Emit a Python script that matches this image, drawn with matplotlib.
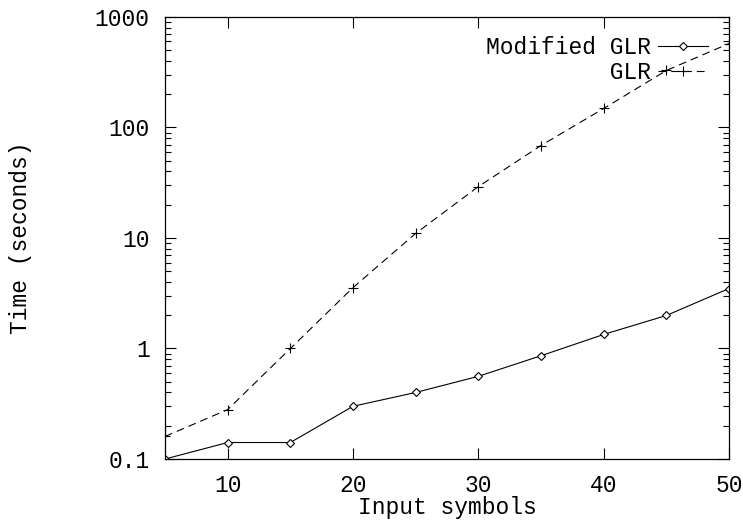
import matplotlib
matplotlib.use("Agg")
import matplotlib.pyplot as plt
from matplotlib.ticker import LogLocator, NullFormatter, FixedLocator, FixedFormatter

# data
symbols = [5, 10, 15, 20, 25, 30, 35, 40, 45, 50]
modified_glr = [0.1, 0.141, 0.141, 0.30, 0.40, 0.56, 0.86, 1.34, 1.99, 3.49]
glr = [0.16, 0.28, 1.0, 3.56, 11.0, 29.2, 68.7, 148.6, 328, 575]

x_ticks = [10, 20, 30, 40, 50]
y_ticks = [0.1, 1, 10, 100, 1000]
y_labels = ["0.1", "1", "10", "100", "1000"]

plt.rcParams['font.family'] = ['Liberation Mono', 'DejaVu Sans Mono']
fs = 16.5

fig = plt.figure(figsize=(7.43, 5.21), dpi=100)
ax = fig.add_axes([0.2221, 0.119, 0.7591, 0.8484])

ax.plot(symbols, modified_glr, color="black", lw=0.8, marker="D", ms=4.5,
        mfc="white", mec="black", mew=0.8, label="Modified GLR")
ax.plot(symbols, glr, color="black", lw=0.8, ls=(0, (7, 4.5)), marker="+", ms=7,
        mew=0.8, label="         GLR")

ax.set_yscale("log")
ax.set_xlim(5, 50)
ax.set_ylim(0.1, 1000)

ax.xaxis.set_major_locator(FixedLocator(x_ticks))
ax.yaxis.set_major_locator(FixedLocator(y_ticks))
ax.yaxis.set_major_formatter(FixedFormatter(y_labels))
ax.yaxis.set_minor_locator(LogLocator(base=10, subs=range(2, 10)))
ax.yaxis.set_minor_formatter(NullFormatter())

ax.tick_params(which="both", direction="in", top=True, right=True, width=0.8)
ax.tick_params(which="major", length=8)
ax.tick_params(which="minor", length=4)
ax.tick_params(axis="x", labelsize=fs, pad=11)
ax.tick_params(axis="y", labelsize=fs, pad=11)
for s in ax.spines.values():
    s.set_linewidth(0.9)

ax.set_xlabel("Input symbols", fontsize=fs, labelpad=-1)
ax.set_ylabel("Time (seconds)", fontsize=fs, labelpad=45)

leg = ax.legend(loc="upper right", frameon=False, markerfirst=False,
                prop={"size": fs}, handlelength=2.2, handletextpad=0.3,
                labelspacing=0.1, borderaxespad=0, borderpad=0,
                bbox_to_anchor=(0.9628, 0.957))

fig.savefig("out.png", dpi=100)
